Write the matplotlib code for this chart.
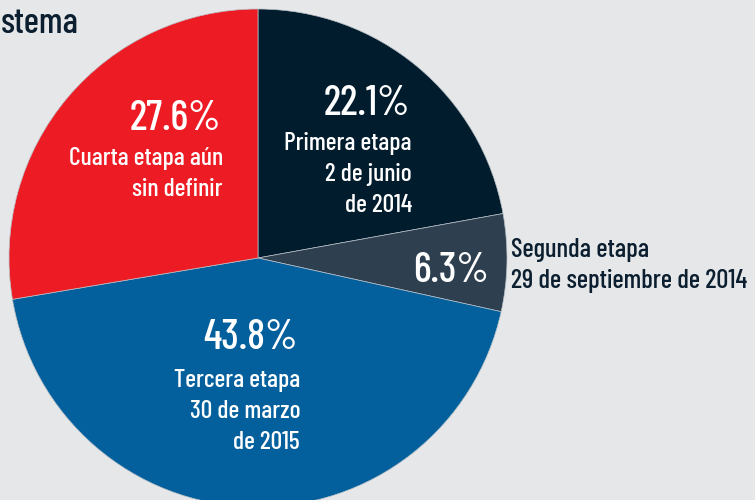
import matplotlib
matplotlib.use("Agg")
import matplotlib.pyplot as plt

#*******************************************************************************
# Data
#*******************************************************************************
stages  = ["Primera etapa", "Segunda etapa", "Tercera etapa", "Cuarta etapa"]
shares  = [22.1, 6.3, 43.8, 27.6]
pct_txt = ["22.1%", "6.3%", "43.8%", "27.6%"]
labels  = [["Primera etapa", "2 de junio", "de 2014"],
           ["Segunda etapa", "29 de septiembre de 2014"],
           ["Tercera etapa", "30 de marzo", "de 2015"],
           ["Cuarta etapa aún", "sin definir"]]
colors  = ["#011c2d", "#2e3f4f", "#03609d", "#ed1c24"]
title   = "stema"

BG   = "#e6e7e8"
NAVY = "#0b1f30"
W, H = 755, 500

# narrow DIN-like face, with a fallback for any missing glyph
FONT = dict(family=["Barlow Condensed", "DejaVu Sans"], weight="medium")

def px(y):
    # screen y (from top) -> data y
    return H - y

fig = plt.figure(figsize=(W / 100, H / 100), dpi=100, facecolor=BG)
ax = fig.add_axes([0, 0, 1, 1])
ax.set_facecolor(BG)

ax.pie(shares, colors=colors, startangle=90, counterclock=False,
       center=(258, px(258)), radius=249, frame=True,
       wedgeprops=dict(edgecolor="#b9c0c7", linewidth=0.5))

ax.set_xlim(0, W)
ax.set_ylim(0, H)
ax.set_aspect("equal")
ax.axis("off")

# right x, percent baseline, first label baseline
anchors = [(410, 115, 150),
           (489, 282, None),
           (298, 349, 387),
           (221, 130, 165)]
LINE = 31

for i, (x, yb, lb) in enumerate(anchors):
    ax.text(x, px(yb), pct_txt[i], ha="right", va="baseline", color="white",
            fontsize=30, **FONT)
    if lb is not None:
        for j, line in enumerate(labels[i]):
            ax.text(x + 2, px(lb + j * LINE), line, ha="right", va="baseline",
                    color="white", fontsize=18.5, **FONT)

# the small wedge gets its label outside the pie
for j, line in enumerate(labels[1]):
    ax.text(511, px(257 + j * LINE), line, ha="left", va="baseline",
            color=NAVY, fontsize=19.3, **FONT)

ax.text(1, px(33), title, ha="left", va="baseline", color=NAVY,
        fontsize=26, **FONT)

fig.savefig("out.png", dpi=100, facecolor=BG)
